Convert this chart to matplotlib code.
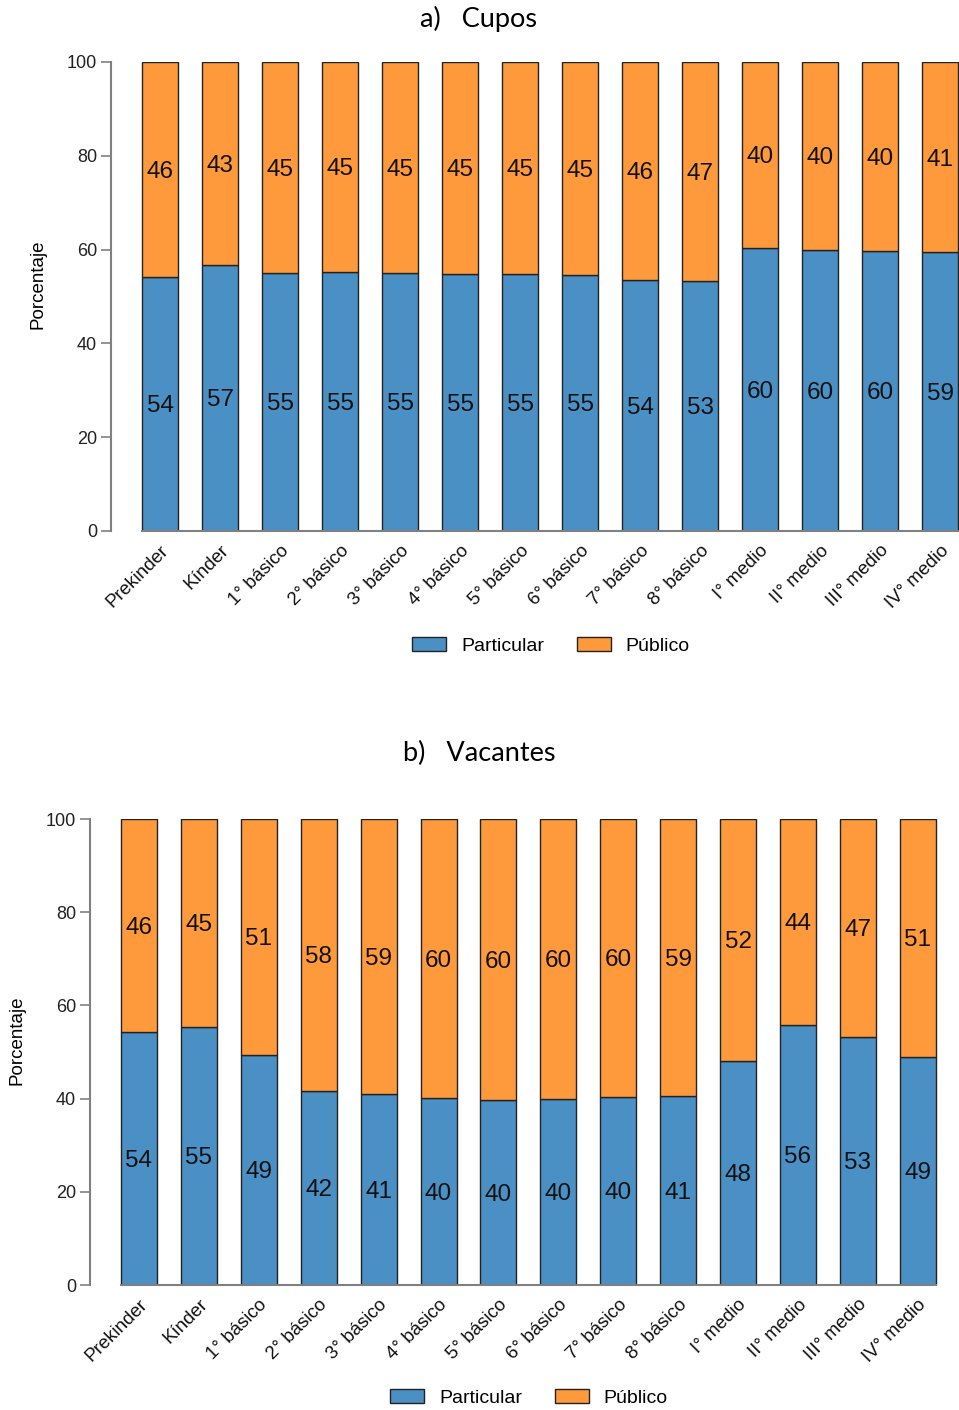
import matplotlib
matplotlib.use("Agg")
import matplotlib.pyplot as plt
from matplotlib.patches import Patch
import numpy as np

categories = ["Prekinder", "Kínder", "1° básico", "2° básico", "3° básico", "4° básico",
              "5° básico", "6° básico", "7° básico", "8° básico", "I° medio", "II° medio",
              "III° medio", "IV° medio"]

cupos_particular = [54.2, 56.8, 55.1, 55.3, 55.0, 54.8, 54.8, 54.6, 53.6, 53.3, 60.3, 60.0, 59.7, 59.4]
cupos_publico = [100 - v for v in cupos_particular]

vacantes_particular = [54.3, 55.4, 49.4, 41.6, 41.0, 40.1, 39.6, 39.9, 40.3, 40.6, 48.1, 55.8, 53.2, 48.9]
vacantes_publico = [100 - v for v in vacantes_particular]

yticks = [0, 20, 40, 60, 80, 100]
series_names = ["Particular", "Público"]
titles = ["a)   Cupos", "b)   Vacantes"]

BLUE = "#4A90C4"
ORANGE = "#FF9A3C"
EDGE = "#222222"
SPINE = "#808080"

plt.rcParams['font.family'] = ['Liberation Sans', 'DejaVu Sans']

W, H = 959, 1410
fig = plt.figure(figsize=(W / 100, H / 100), dpi=100)


def panel(left_px, top_px, bottom_px, center0_px, spacing_px, bar_w_px, part, pub, title,
          title_y, ylabel_x, legend_x, legend_y):
    half = (center0_px - left_px) / spacing_px
    xmin = -half
    xmax = len(categories) - 1 + half
    right_px = center0_px + (len(categories) - 1 + half) * spacing_px
    ax = fig.add_axes([left_px / W, 1 - bottom_px / H, (right_px - left_px) / W,
                       (bottom_px - top_px) / H])
    x = np.arange(len(categories))
    bw = bar_w_px / spacing_px
    ax.bar(x, part, width=bw, color=BLUE, edgecolor=EDGE, linewidth=1.0, zorder=2)
    ax.bar(x, pub, bottom=part, width=bw, color=ORANGE, edgecolor=EDGE, linewidth=1.0, zorder=2)
    for i in range(len(categories)):
        ax.text(x[i], part[i] / 2 - 0.5, f"{round(part[i]):d}", ha="center", va="center",
                fontsize=17.5, color="#111111", zorder=3)
        ax.text(x[i], part[i] + pub[i] / 2 - 0.5, f"{round(pub[i]):d}", ha="center", va="center",
                fontsize=17.5, color="#111111", zorder=3)
    ax.set_xlim(xmin, xmax)
    ax.set_ylim(0, 100)
    ax.set_yticks(yticks)
    ax.set_yticklabels([str(t) for t in yticks], fontsize=13, color="#222222")
    ax.set_xticks(x)
    ax.set_xticklabels(categories, rotation=45, ha="right", rotation_mode="anchor",
                       fontsize=13.5, color="#111111")
    ax.tick_params(axis="x", length=0, pad=8)
    ax.tick_params(axis="y", length=7, width=1.2, color=SPINE, pad=3)
    for s in ["top", "right"]:
        ax.spines[s].set_visible(False)
    ax.spines["left"].set_color(SPINE)
    ax.spines["left"].set_linewidth(1.5)
    ax.spines["bottom"].set_color(SPINE)
    ax.spines["bottom"].set_linewidth(1.5)
    ax.spines["bottom"].set_bounds(-bw / 2, len(categories) - 1 + bw / 2)
    fig.text(479 / W, 1 - title_y / H, title, ha="center", va="center", fontsize=19.5,
             family=["Lato", "DejaVu Sans"])
    fig.text(ylabel_x / W, 1 - ((top_px + bottom_px) / 2 - 12) / H, "Porcentaje",
             rotation=90, ha="center", va="center", fontsize=13.5)
    handles = [Patch(facecolor=BLUE, edgecolor=EDGE, linewidth=1.0),
               Patch(facecolor=ORANGE, edgecolor=EDGE, linewidth=1.0)]
    fig.legend(handles, series_names, loc="center", bbox_to_anchor=(legend_x / W, 1 - legend_y / H),
               ncol=2, frameon=False, fontsize=14, handlelength=1.75, handleheight=0.7,
               handletextpad=0.75, columnspacing=1.7)
    return ax


panel(111, 62, 531, 160, 60.0, 36, cupos_particular, cupos_publico, titles[0],
      19, 38, 551, 646)
panel(90, 819, 1285, 139, 59.9, 36, vacantes_particular, vacantes_publico, titles[1],
      753, 17, 529, 1398)

fig.savefig("out.png", dpi=100)
